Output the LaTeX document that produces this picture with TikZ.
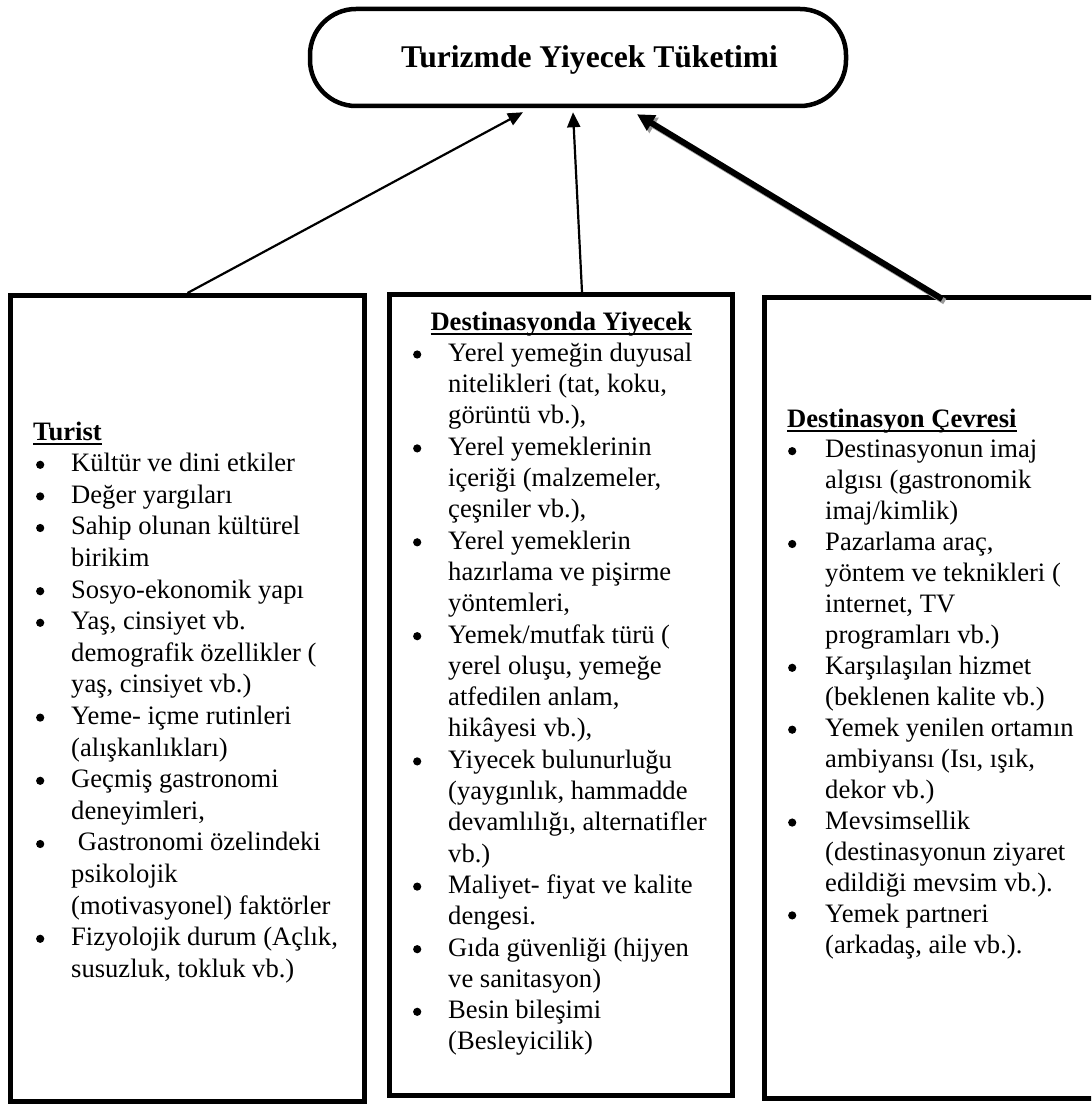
\documentclass[tikz,border=0pt]{standalone}
\usepackage{fontspec}
\setmainfont{Liberation Serif}
\usetikzlibrary{arrows.meta,calc}

% list layout helpers
\newlength\bulletskip
\newlength\labelind
\newcommand\bdot{\tikz[baseline=0pt,x=1pt,y=1pt]{\path (-4.5,0) rectangle (4.5,0);\fill (0,6.8) circle (4.1pt);}}
\newcommand\bitem[1]{\par\noindent\hangindent=\labelind\hangafter=1
  \makebox[\labelind][l]{\hspace{\bulletskip}\makebox[0pt][c]{\bdot}}\ignorespaces#1\par}
\newcommand\hdr[1]{\leavevmode\setbox0\hbox{\bfseries #1}\rlap{\rule[-4.6pt]{\wd0}{1.8pt}}\box0}
\newcommand\listfont[1]{\fontsize{26.6pt}{#1}\selectfont}

\begin{document}
\begin{tikzpicture}[x=1pt,y=-1pt,
  factorbox/.style={draw, line width=5pt, inner sep=0pt, outer sep=2.5pt},
  titlebox/.style={draw, line width=4.5pt, rounded corners=46pt, inner sep=0pt,
    minimum width=536pt, minimum height=97pt},
  titletext/.style={inner sep=0pt, font=\fontsize{31.6pt}{36pt}\selectfont\bfseries},
  listtext/.style={inner sep=0pt, anchor=base west},
  thinarrow/.style={line width=2.2pt, -{Triangle[length=15pt,width=13pt]}},
  thickarrow/.style={line width=6pt, -{Triangle[length=17pt,width=17pt]}},
]
\useasboundingbox (0,0) rectangle (1091,1107);
\clip (0,0) rectangle (1091,1107);

% central concept
\node[titlebox] (title) at (578,57.5) {};
\node[titletext, anchor=base] (titlelabel) at (589.5,68) {Turizmde Yiyecek Tüketimi};

% the three factor boxes
\node[factorbox, minimum width=354pt, minimum height=806pt] (tourist) at (187.5,698.5) {};
\node[factorbox, minimum width=343pt, minimum height=800.5pt] (food) at (561,694.75) {};
\node[factorbox, minimum width=345.5pt, minimum height=801pt] (env) at (937.25,698) {};

% arrow ends under the title
\coordinate (tipA) at ([xshift=-55pt,yshift=-4pt]title.south);
\coordinate (tipB) at ([xshift=-5pt,yshift=-4pt]title.south);
\coordinate (tipC) at ([xshift=59pt,yshift=-6pt]title.south);
\coordinate (startC) at ([xshift=5pt,yshift=-4pt]env.north);

% connectors
\draw[thinarrow] (tourist.north) -- (tipA);
\draw[thinarrow] ([xshift=21pt]food.north) -- (tipB);
\draw[thickarrow, draw=black!40, fill=black!40]
  ($(startC)+(2.5,2.5)$) -- ($(tipC)+(2.5,2.5)$);
\draw[thickarrow] (startC) -- (tipC);

% Turist
\node[listtext] (touristtext) at (33,440) {\parbox[t]{330pt}{%
  \listfont{31.6pt}\setlength\labelind{38pt}\setlength\bulletskip{7pt}%
  \hdr{Turist}\par
  \bitem{Kültür ve dini etkiler}
  \bitem{Değer yargıları}
  \bitem{Sahip olunan kültürel\newline birikim}
  \bitem{Sosyo-ekonomik yapı}
  \bitem{Yaş, cinsiyet vb.\newline demografik özellikler (\newline yaş, cinsiyet vb.)}
  \bitem{Yeme- içme rutinleri\newline (alışkanlıkları)}
  \bitem{Geçmiş gastronomi\newline deneyimleri,}
  \bitem{\hspace*{6.6pt}Gastronomi özelindeki\newline psikolojik\newline (motivasyonel) faktörler}
  \bitem{Fizyolojik durum (Açlık,\newline susuzluk, tokluk vb.)}
}};

% Destinasyonda Yiyecek
\node[listtext] (foodtext) at (412,330) {\parbox[t]{320pt}{%
  \listfont{31.3pt}\setlength\labelind{36pt}\setlength\bulletskip{5pt}%
  \makebox[298pt]{\hdr{Destinasyonda Yiyecek}}\par
  \bitem{Yerel yemeğin duyusal\newline nitelikleri (tat, koku,\newline görüntü vb.),}
  \bitem{Yerel yemeklerinin\newline içeriği (malzemeler,\newline çeşniler vb.),}
  \bitem{Yerel yemeklerin\newline hazırlama ve pişirme\newline yöntemleri,}
  \bitem{Yemek/mutfak türü (\newline yerel oluşu, yemeğe\newline atfedilen anlam,\newline hikâyesi vb.),}
  \bitem{Yiyecek bulunurluğu\newline (yaygınlık, hammadde\newline devamlılığı, alternatifler\newline vb.)}
  \bitem{Maliyet- fiyat ve kalite\newline dengesi.}
  \bitem{Gıda güvenliği (hijyen\newline ve sanitasyon)}
  \bitem{Besin bileşimi\newline (Besleyicilik)}
}};

% Destinasyon Çevresi
\node[listtext] (envtext) at (787,427) {\parbox[t]{300pt}{%
  \listfont{30.95pt}\setlength\labelind{38pt}\setlength\bulletskip{5pt}%
  \hdr{Destinasyon Çevresi}\par
  \bitem{Destinasyonun imaj\newline algısı (gastronomik\newline imaj/kimlik)}
  \bitem{Pazarlama araç,\newline yöntem ve teknikleri (\newline internet, TV\newline programları vb.)}
  \bitem{Karşılaşılan hizmet\newline (beklenen kalite vb.)}
  \bitem{Yemek yenilen ortamın\newline ambiyansı (Isı, ışık,\newline dekor vb.)}
  \bitem{Mevsimsellik\newline (destinasyonun ziyaret\newline edildiği mevsim vb.).}
  \bitem{Yemek partneri\newline (arkadaş, aile vb.).}
}};
\end{tikzpicture}
\end{document}
